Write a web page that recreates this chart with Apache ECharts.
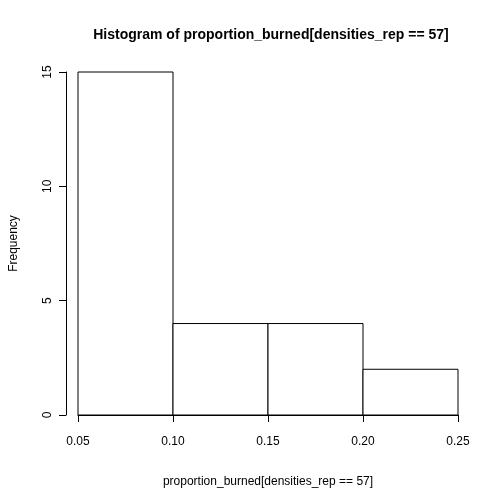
<!DOCTYPE html>
<html><head><meta charset="utf-8">
<script src="https://cdn.jsdelivr.net/npm/echarts@6/dist/echarts.min.js"></script>
<style>html,body{margin:0;padding:0;background:#fff}#c{width:504px;height:504px}</style>
</head><body><div id="c"></div>
<script>
const binStarts = [0.05, 0.10, 0.15, 0.20];
const binEnds = [0.10, 0.15, 0.20, 0.25];
const counts = [15, 4, 4, 2];
const xTicks = [0.05, 0.10, 0.15, 0.20, 0.25];
const yTicks = [0, 5, 10, 15];
const data = binStarts.map((s, i) => [s, binEnds[i], counts[i]]);
const chart = echarts.init(document.getElementById('c'));
const font = 'Liberation Sans, Arial, sans-serif';
chart.setOption({
  animation: false,
  title: {text: 'Histogram of proportion_burned[densities_rep == 57]', left: 266, top: 23, textAlign: 'center',
    textStyle: {fontFamily: font, fontSize: 14, fontWeight: 'bold', color: '#000'}},
  grid: {left: 74, right: 46, top: 72, bottom: 89},
  xAxis: {type: 'value', min: 0.05, max: 0.25, interval: 0.05, offset: 13,
    name: 'proportion_burned[densities_rep == 57]', nameLocation: 'middle', nameGap: 48,
    nameTextStyle: {fontFamily: font, fontSize: 12, color: '#000'},
    axisLine: {show: true, lineStyle: {color: '#000'}},
    axisTick: {show: true, length: 7, lineStyle: {color: '#000'}},
    axisLabel: {fontFamily: font, fontSize: 12, color: '#000', margin: 8, formatter: v => v.toFixed(2)},
    splitLine: {show: false}},
  yAxis: {type: 'value', min: 0, max: 15, interval: 5, offset: 12,
    name: 'Frequency', nameLocation: 'middle', nameGap: 46, nameRotate: 90,
    nameTextStyle: {fontFamily: font, fontSize: 12, color: '#000'},
    axisLine: {show: true, lineStyle: {color: '#000'}},
    axisTick: {show: true, length: 7, lineStyle: {color: '#000'}},
    axisLabel: {fontFamily: font, fontSize: 12, color: '#000', rotate: 90, margin: 12},
    splitLine: {show: false}},
  series: [{type: 'custom', data: data, encode: {x: [0, 1], y: 2},
    renderItem: (params, api) => {
      const p0 = api.coord([api.value(0), api.value(2)]);
      const p1 = api.coord([api.value(1), 0]);
      return {type: 'rect', shape: {x: p0[0], y: p0[1], width: p1[0] - p0[0], height: p1[1] - p0[1]},
        style: {fill: '#fff', stroke: '#000', lineWidth: 1}};
    }}]
});
</script></body></html>
